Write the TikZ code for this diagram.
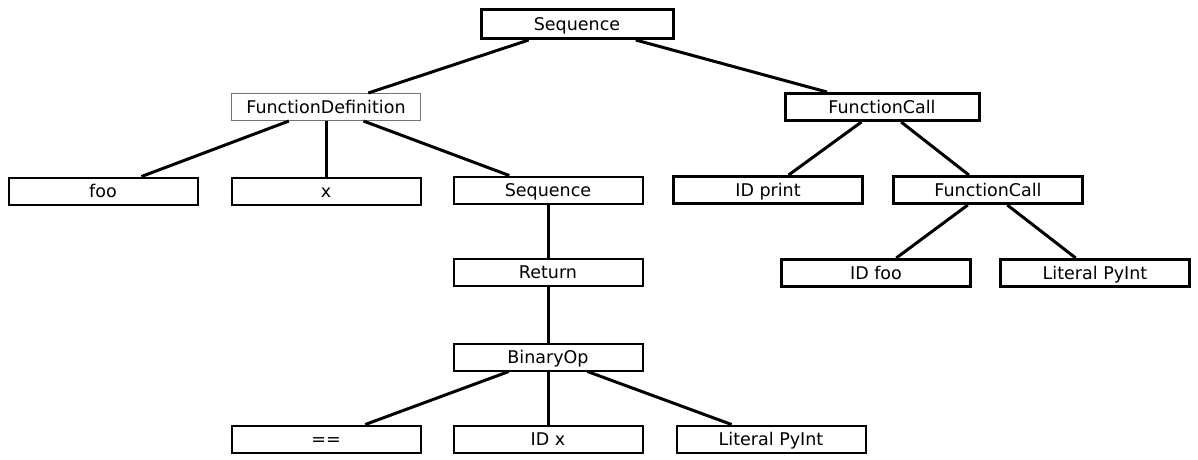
\documentclass[tikz,border=0pt]{standalone}
\usepackage{fontspec}
\setmainfont{DejaVu Sans}
\begin{document}
\begin{tikzpicture}[x=1pt, y=-1pt,
    box/.style={draw, rectangle, fill=white, minimum width=189pt, minimum height=27pt,
      inner sep=0pt, text height=13pt, text depth=0pt, font=\fontsize{17.5}{20}\selectfont},
    lightbox/.style={box, draw=black!55, line width=1pt},
    midbox/.style={box, line width=2pt},
    heavybox/.style={box, line width=3pt},
    link/.style={line width=3pt}]
        \useasboundingbox (0,0) rectangle (1198,459);
        % Root and its two children
        \node[heavybox, minimum width=192pt, minimum height=29pt] (seq) at (577,24) {Sequence};
        \node[lightbox] (fdef) at (326,107) {FunctionDefinition};
        \node[heavybox, minimum width=194pt] (fcall) at (882,107) {FunctionCall};
        
        % Second row
        \node[midbox] (foo) at (103,191) {foo};
        \node[midbox] (x) at (326,191) {x};
        \node[midbox] (body) at (548,190) {Sequence};
        \node[heavybox] (idprint) at (768,190) {ID print};
        \node[heavybox] (fcallin) at (988,190) {FunctionCall};
        
        % Third row
        \node[midbox] (ret) at (548,272) {Return};
        \node[heavybox] (idfoo) at (876,273) {ID foo};
        \node[heavybox] (litr) at (1095,273) {Literal PyInt};
        
        % Return expression
        \node[midbox] (binop) at (548,357) {BinaryOp};
        \node[midbox] (eq) at (326,439) {==};
        \node[midbox] (idx) at (548,439) {ID x};
        \node[midbox] (litb) at (771,439) {Literal PyInt};
        
        \draw[link] (seq)--(fdef); \draw[link] (seq)--(fcall); % Root edges
        \draw[link] (fdef)--(foo); \draw[link] (fdef)--(x); \draw[link] (fdef)--(body);
        \draw[link] (fcall)--(idprint); \draw[link] (fcall)--(fcallin);
        \draw[link] (fcallin)--(idfoo); \draw[link] (fcallin)--(litr);
        \draw[link] (body)--(ret); \draw[link] (ret)--(binop); % Down the body
        \draw[link] (binop)--(eq); \draw[link] (binop)--(idx); \draw[link] (binop)--(litb);
    \end{tikzpicture}
\end{document}
